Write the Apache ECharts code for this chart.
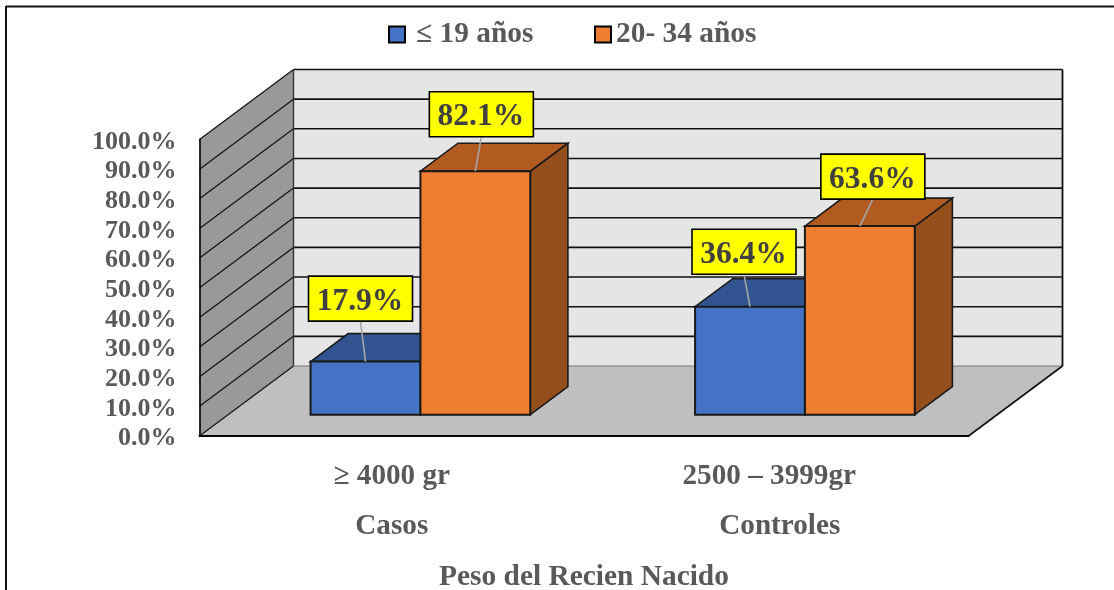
<!DOCTYPE html>
<html>
<head>
<meta charset="utf-8">
<style>html,body{margin:0;padding:0;background:#fff}#chart{width:1114px;height:590px}</style>
<script src="https://cdn.jsdelivr.net/npm/echarts@6/dist/echarts.min.js"></script>
</head>
<body>
<div id="chart"></div>
<script>
// Birth-weight ranges and study groups shown on the two-level category axis
const weightRanges = ['≥ 4000 gr', '2500 – 3999gr'];
const studyGroups = ['Casos', 'Controles'];
const axisTitle = 'Peso del Recien Nacido';

// Percentage of each maternal age group
const under19Name = '≤ 19 años';
const under19Values = [17.9, 36.4];
const age20to34Name = '20- 34 años';
const age20to34Values = [82.1, 63.6];

const valueTicks = [0, 10, 20, 30, 40, 50, 60, 70, 80, 90, 100];

// Hand-placed callouts: pixel shift of the label centre from the top of the bar
const under19Callouts = [[-5, -63], [-6, -55]];
const age20to34Callouts = [[6, -57], [13, -49.5]];

// Oblique projection of the depth axis, in pixels
const DEPTH_X = 94;
const DEPTH_Y = -70;
const BAR_NEAR = 0.305;
const BAR_FAR = 0.705;
const BAR_SHARE = 1 / 3.5;   // two bars plus a 75% gap in each band
const LABEL_W = 104;
const LABEL_H = 45;
const EDGE = '#1a1a1a';

const serif = '"Liberation Serif", "Times New Roman", serif';

function poly(points, fill, stroke, lineWidth) {
  return {
    type: 'polygon',
    shape: { points },
    style: { fill, stroke: stroke || null, lineWidth: lineWidth || 0, lineJoin: 'miter' }
  };
}

function seg(a, b, width, color) {
  return {
    type: 'line',
    shape: { x1: a[0], y1: a[1], x2: b[0], y2: b[1] },
    style: { stroke: color || '#000', lineWidth: width }
  };
}

// Floor, side wall, back wall and gridlines of the 3D frame
function renderFrame(params, api) {
  const band = api.size([1, 0])[0];
  const left = api.coord([0, 0])[0] - band / 2;
  const right = api.coord([1, 0])[0] + band / 2;
  const y0 = api.coord([0, valueTicks[0]])[1];
  const yTop = api.coord([0, valueTicks[valueTicks.length - 1]])[1];
  const back = (x, y) => [x + DEPTH_X, y + DEPTH_Y];
  const kids = [
    poly([[left + DEPTH_X, yTop + DEPTH_Y], [right + DEPTH_X, yTop + DEPTH_Y], [right + DEPTH_X, y0 + DEPTH_Y], [left + DEPTH_X, y0 + DEPTH_Y]], '#e5e5e5'),
    poly([[left, yTop], back(left, yTop), back(left, y0), [left, y0]], '#999999'),
    poly([[left, y0], [right, y0], back(right, y0), back(left, y0)], '#bfbfbf')
  ];
  valueTicks.forEach(function (t) {
    const y = api.coord([0, t])[1];
    kids.push(seg([left, y], back(left, y), 1.2, '#111'));
    if (t > valueTicks[0]) kids.push(seg(back(left, y), back(right, y), 1.6, '#111'));
  });
  kids.push(seg(back(left, y0), back(right, y0), 1, '#777'));
  kids.push(seg(back(left, yTop), back(left, y0), 1.4, '#333'));
  kids.push(seg(back(right, yTop), back(right, y0), 1.8, '#111'));
  kids.push(seg([right, y0], back(right, y0), 1.6, '#111'));
  return { type: 'group', children: kids };
}

// One 3D bar plus its yellow callout; slot is 0 for the left bar, 1 for the right
function barRenderer(slot, colors, callouts) {
  return function (params, api) {
    const idx = api.value(0);
    const base = api.coord([idx, 0]);
    const top = api.coord([idx, api.value(1)]);
    const band = api.size([1, 0])[0];
    const w = band * BAR_SHARE;
    const x0 = base[0] - w + slot * w + DEPTH_X * BAR_NEAR;
    const x1 = x0 + w;
    const yb = base[1] + DEPTH_Y * BAR_NEAR;
    const yt = top[1] + DEPTH_Y * BAR_NEAR;
    const dx = DEPTH_X * (BAR_FAR - BAR_NEAR);
    const dy = DEPTH_Y * (BAR_FAR - BAR_NEAR);
    const cx = (x0 + x1) / 2;
    const shift = callouts[idx];
    const lx = cx + shift[0];
    const ly = yt + shift[1];
    const tipY = ly + LABEL_H / 2;
    return {
      type: 'group',
      children: [
        poly([[x1, yb], [x1 + dx, yb + dy], [x1 + dx, yt + dy], [x1, yt]], colors.side, EDGE, 1.6),
        poly([[x0, yt], [x1, yt], [x1 + dx, yt + dy], [x0 + dx, yt + dy]], colors.top, EDGE, 1.6),
        poly([[x0, yb], [x1, yb], [x1, yt], [x0, yt]], colors.front, EDGE, 2),
        seg([cx, yt], [lx, tipY], 1.6, '#a6a6a6'),
        {
          type: 'rect',
          shape: { x: lx - LABEL_W / 2, y: ly - LABEL_H / 2, width: LABEL_W, height: LABEL_H },
          style: { fill: '#ffff00', stroke: '#000', lineWidth: 1.6 }
        },
        {
          type: 'text',
          style: {
            x: lx - 0.5, y: ly + 3,
            text: api.value(1).toFixed(1) + '%',
            fill: '#404040',
            font: 'bold 31.5px ' + serif,
            align: 'center',
            verticalAlign: 'middle'
          }
        }
      ]
    };
  };
}

const under19Colors = { front: '#4472c4', top: '#325490', side: '#2a4a80' };
const age20to34Colors = { front: '#ed7d31', top: '#b15b21', side: '#954f1c' };

const legendText = { color: '#595959', fontFamily: serif, fontWeight: 'bold', fontSize: 29.4 };

const chart = echarts.init(document.getElementById('chart'), null, { renderer: 'canvas' });
chart.setOption({
  animation: false,
  backgroundColor: '#fff',
  graphic: [
    { type: 'line', silent: true, shape: { x1: 6, y1: 6.5, x2: 1114, y2: 6.5 }, style: { stroke: '#111', lineWidth: 2 } },
    { type: 'line', silent: true, shape: { x1: 6, y1: 6, x2: 6, y2: 590 }, style: { stroke: '#111', lineWidth: 2 } }
  ],
  legend: [
    {
      data: [{ name: under19Name, icon: 'rect' }], left: 388, top: 20, padding: 0,
      itemWidth: 16, itemHeight: 16, itemGap: 0,
      textStyle: Object.assign({ padding: [0, 0, 0, 6] }, legendText),
      selectedMode: false
    },
    {
      data: [{ name: age20to34Name, icon: 'rect' }], left: 594, top: 20, padding: 0,
      itemWidth: 16, itemHeight: 16, itemGap: 0,
      textStyle: legendText,
      selectedMode: false
    }
  ],
  grid: { left: 199.5, top: 139.5, width: 769, height: 296.5, outerBoundsMode: 'none' },
  xAxis: {
    type: 'category',
    data: weightRanges.map((r, i) => r + '\n' + studyGroups[i]),
    z: 10,
    name: axisTitle,
    nameLocation: 'middle',
    nameGap: 127,
    nameTextStyle: { color: '#595959', fontFamily: serif, fontWeight: 'bold', fontSize: 29.4 },
    axisLine: { show: true, lineStyle: { color: '#000', width: 2 } },
    axisTick: { show: false },
    axisLabel: {
      margin: 15,
      interval: 0,
      color: '#595959',
      fontFamily: serif,
      fontWeight: 'bold',
      fontSize: 29.2,
      lineHeight: 50,
      formatter: function (v, i) {
        return i === 1
          ? '{a|' + weightRanges[i] + '}\n{b|' + studyGroups[i] + '}'
          : '{c|' + weightRanges[i] + '}\n{c|' + studyGroups[i] + '}';
      },
      rich: {
        a: { padding: [0, 14, 0, 0], lineHeight: 50 },
        b: { padding: [0, 0, 0, 7], lineHeight: 50 },
        c: { lineHeight: 50 }
      }
    }
  },
  yAxis: {
    type: 'value',
    min: 0,
    max: 100,
    interval: 10,
    z: 10,
    axisLine: { show: true, lineStyle: { color: '#000', width: 1.6 } },
    axisTick: { show: false },
    splitLine: { show: false },
    axisLabel: {
      margin: 23,
      color: '#595959',
      fontFamily: serif,
      fontWeight: 'bold',
      fontSize: 26,
      formatter: v => '{t|' + v.toFixed(1) + '%}',
      rich: { t: { padding: [5, 0, 0, 0] } }
    }
  },
  series: [
    {
      type: 'custom',
      name: 'frame',
      silent: true,
      clip: false,
      data: [[0, 0]],
      encode: { x: 0, y: 1 },
      renderItem: renderFrame,
      z: 1
    },
    {
      type: 'custom',
      name: under19Name,
      clip: false,
      data: under19Values.map((v, i) => [i, v]),
      encode: { x: 0, y: 1 },
      itemStyle: { color: under19Colors.front, borderColor: '#000', borderWidth: 2 },
      renderItem: barRenderer(0, under19Colors, under19Callouts),
      z: 2
    },
    {
      type: 'custom',
      name: age20to34Name,
      clip: false,
      data: age20to34Values.map((v, i) => [i, v]),
      encode: { x: 0, y: 1 },
      itemStyle: { color: age20to34Colors.front, borderColor: '#000', borderWidth: 2 },
      renderItem: barRenderer(1, age20to34Colors, age20to34Callouts),
      z: 3
    }
  ]
});
</script>
</body>
</html>
